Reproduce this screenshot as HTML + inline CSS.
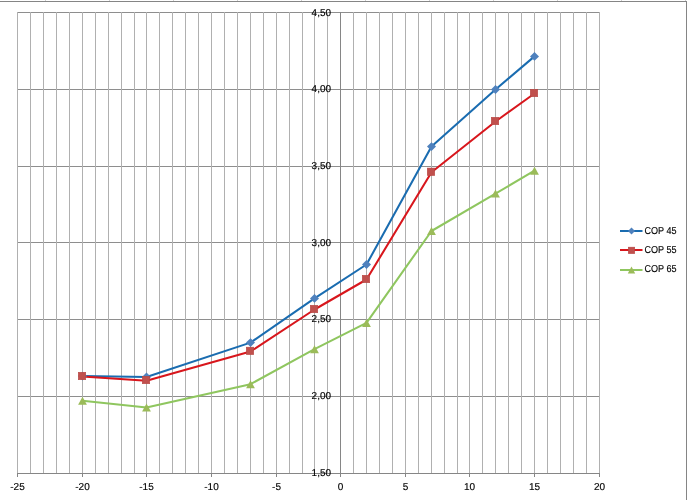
<!DOCTYPE html>
<html><head><meta charset="utf-8"><style>
html,body{margin:0;padding:0;background:#fff;}
body{width:688px;height:500px;position:relative;overflow:hidden;font-family:"Liberation Sans",sans-serif;}
svg{display:block;}
</style></head><body>
<div style="position:absolute;left:0;top:0;will-change:transform"><svg width="688" height="500" viewBox="0 0 688 500" shape-rendering="crispEdges">
<path d="M0 1.5 H685 Q686.5 1.5 686.5 3 V500" fill="none" stroke="#858585" stroke-width="1"/>
<path d="M45.5 0V1M109.5 0V1M173.5 0V1M237.5 0V1M301.5 0V1M365.5 0V1M429.5 0V1M493.5 0V1M557.5 0V1M621.5 0V1M685.5 0V1" stroke="#d0d0d0" stroke-width="1" fill="none"/>
<path d="M17 12.5H600M17 89.5H600M17 166.5H600M17 242.5H600M17 319.5H600M17 396.5H600" stroke="#8e8e8e" stroke-width="1" fill="none"/>
<path d="M17.5 12V473M30.5 12V473M43.5 12V473M56.5 12V473M69.5 12V473M82.5 12V473M95.5 12V473M108.5 12V473M121.5 12V473M134.5 12V473M146.5 12V473M159.5 12V473M172.5 12V473M185.5 12V473M198.5 12V473M211.5 12V473M224.5 12V473M237.5 12V473M250.5 12V473M263.5 12V473M276.5 12V473M289.5 12V473M302.5 12V473M314.5 12V473M327.5 12V473M353.5 12V473M366.5 12V473M379.5 12V473M392.5 12V473M405.5 12V473M418.5 12V473M431.5 12V473M444.5 12V473M457.5 12V473M469.5 12V473M482.5 12V473M495.5 12V473M508.5 12V473M521.5 12V473M534.5 12V473M547.5 12V473M560.5 12V473M573.5 12V473M586.5 12V473M599.5 12V473" stroke="#b0b0b0" stroke-width="1" fill="none"/>
<path d="M340.5 12V473.5M17 473.5H600" stroke="#868686" stroke-width="1" fill="none"/>
<path d="M17.5 473V477M82.5 473V477M146.5 473V477M211.5 473V477M276.5 473V477M340.5 473V477M405.5 473V477M469.5 473V477M534.5 473V477M599.5 473V477" stroke="#868686" stroke-width="1" fill="none"/>
</svg></div>
<svg width="688" height="500" viewBox="0 0 688 500" style="position:absolute;left:0;top:0;will-change:transform">
<g font-family="Liberation Sans, sans-serif" font-size="10" fill="#000" stroke="#000" stroke-width="0.15" text-rendering="geometricPrecision">
<text x="331" y="16" text-anchor="end" textLength="19.4" lengthAdjust="spacingAndGlyphs">4,50</text>
<text x="331" y="92" text-anchor="end" textLength="19.4" lengthAdjust="spacingAndGlyphs">4,00</text>
<text x="331" y="169" text-anchor="end" textLength="19.4" lengthAdjust="spacingAndGlyphs">3,50</text>
<text x="331" y="246" text-anchor="end" textLength="19.4" lengthAdjust="spacingAndGlyphs">3,00</text>
<text x="331" y="322" text-anchor="end" textLength="19.4" lengthAdjust="spacingAndGlyphs">2,50</text>
<text x="331" y="399" text-anchor="end" textLength="19.4" lengthAdjust="spacingAndGlyphs">2,00</text>
<text x="331" y="476" text-anchor="end" textLength="19.4" lengthAdjust="spacingAndGlyphs">1,50</text>
<text x="17.5" y="490" text-anchor="middle">-25</text>
<text x="82.5" y="490" text-anchor="middle">-20</text>
<text x="146.5" y="490" text-anchor="middle">-15</text>
<text x="211.5" y="490" text-anchor="middle">-10</text>
<text x="276.5" y="490" text-anchor="middle">-5</text>
<text x="340.5" y="490" text-anchor="middle">0</text>
<text x="405.5" y="490" text-anchor="middle">5</text>
<text x="469.5" y="490" text-anchor="middle">10</text>
<text x="534.5" y="490" text-anchor="middle">15</text>
<text x="599.5" y="490" text-anchor="middle">20</text>
</g>
<polyline points="82.5,376.1 146.5,377 250.5,342.6 314.5,298.4 366.5,264.5 431.5,146.6 495.5,89.5 534.5,56.4" fill="none" stroke="#1a6cb0" stroke-width="2.05" stroke-linejoin="round" stroke-linecap="round"/>
<polyline points="82.5,376.6 146.5,380.8 250.5,351.5 314.5,309.5 366.5,279.5 431.5,172.3 495.5,121.5 534.5,93.5" fill="none" stroke="#d8161c" stroke-width="2.05" stroke-linejoin="round" stroke-linecap="round"/>
<polyline points="82.5,400.8 146.5,407.5 250.5,384.2 314.5,349.2 366.5,322.9 431.5,231.0 495.5,193.6 534.5,170.7" fill="none" stroke="#8fc65f" stroke-width="2.05" stroke-linejoin="round" stroke-linecap="round"/>
<path d="M82.5 371.70000000000005L87.0 376.1L82.5 380.5L78.0 376.1Z" fill="#4f81bd"/>
<path d="M146.5 372.6L151.0 377L146.5 381.4L142.0 377Z" fill="#4f81bd"/>
<path d="M250.5 338.20000000000005L255.0 342.6L250.5 347.0L246.0 342.6Z" fill="#4f81bd"/>
<path d="M314.5 294.0L319.0 298.4L314.5 302.79999999999995L310.0 298.4Z" fill="#4f81bd"/>
<path d="M366.5 260.1L371.0 264.5L366.5 268.9L362.0 264.5Z" fill="#4f81bd"/>
<path d="M431.5 142.2L436.0 146.6L431.5 151.0L427.0 146.6Z" fill="#4f81bd"/>
<path d="M495.5 85.1L500.0 89.5L495.5 93.9L491.0 89.5Z" fill="#4f81bd"/>
<path d="M534.5 52.0L539.0 56.4L534.5 60.8L530.0 56.4Z" fill="#4f81bd"/>
<rect x="78.25" y="372.25" width="7.5" height="7.5" fill="#c0504d" stroke="#b5423f" stroke-width="0.5"/>
<rect x="142.25" y="376.25" width="7.5" height="7.5" fill="#c0504d" stroke="#b5423f" stroke-width="0.5"/>
<rect x="246.25" y="347.15" width="7.5" height="7.5" fill="#c0504d" stroke="#b5423f" stroke-width="0.5"/>
<rect x="310.25" y="305.25" width="7.5" height="7.5" fill="#c0504d" stroke="#b5423f" stroke-width="0.5"/>
<rect x="362.25" y="275.25" width="7.5" height="7.5" fill="#c0504d" stroke="#b5423f" stroke-width="0.5"/>
<rect x="427.25" y="168.05" width="7.5" height="7.5" fill="#c0504d" stroke="#b5423f" stroke-width="0.5"/>
<rect x="491.25" y="117.25" width="7.5" height="7.5" fill="#c0504d" stroke="#b5423f" stroke-width="0.5"/>
<rect x="530.25" y="89.25" width="7.5" height="7.5" fill="#c0504d" stroke="#b5423f" stroke-width="0.5"/>
<path d="M82.5 396.8L86.9 404.8L78.1 404.8Z" fill="#9bbb59"/>
<path d="M146.5 403.5L150.9 411.5L142.1 411.5Z" fill="#9bbb59"/>
<path d="M250.5 380.2L254.9 388.2L246.1 388.2Z" fill="#9bbb59"/>
<path d="M314.5 345.2L318.9 353.2L310.1 353.2Z" fill="#9bbb59"/>
<path d="M366.5 318.9L370.9 326.9L362.1 326.9Z" fill="#9bbb59"/>
<path d="M431.5 227.0L435.9 235.0L427.1 235.0Z" fill="#9bbb59"/>
<path d="M495.5 189.6L499.9 197.6L491.1 197.6Z" fill="#9bbb59"/>
<path d="M534.5 166.7L538.9 174.7L530.1 174.7Z" fill="#9bbb59"/>
<path d="M620 231H642.5" stroke="#1a6cb0" stroke-width="2"/>
<path d="M631.5 227.5L635.0 231L631.5 234.5L628.0 231Z" fill="#4f81bd"/>
<text x="644.5" y="234" font-family="Liberation Sans, sans-serif" font-size="10" text-rendering="geometricPrecision" stroke="#000" stroke-width="0.15" textLength="32" lengthAdjust="spacingAndGlyphs">COP 45</text>
<path d="M620 250H642.5" stroke="#d8161c" stroke-width="2"/>
<rect x="628.25" y="247.15" width="6.5" height="6.5" fill="#c0504d" stroke="#b5423f" stroke-width="0.5"/>
<text x="644.5" y="253" font-family="Liberation Sans, sans-serif" font-size="10" text-rendering="geometricPrecision" stroke="#000" stroke-width="0.15" textLength="32" lengthAdjust="spacingAndGlyphs">COP 55</text>
<path d="M620 270H642.5" stroke="#8fc65f" stroke-width="2"/>
<path d="M631.5 266.5L635.2 273.5L627.8 273.5Z" fill="#9bbb59"/>
<text x="644.5" y="272" font-family="Liberation Sans, sans-serif" font-size="10" text-rendering="geometricPrecision" stroke="#000" stroke-width="0.15" textLength="32" lengthAdjust="spacingAndGlyphs">COP 65</text>
</svg>
</body></html>
